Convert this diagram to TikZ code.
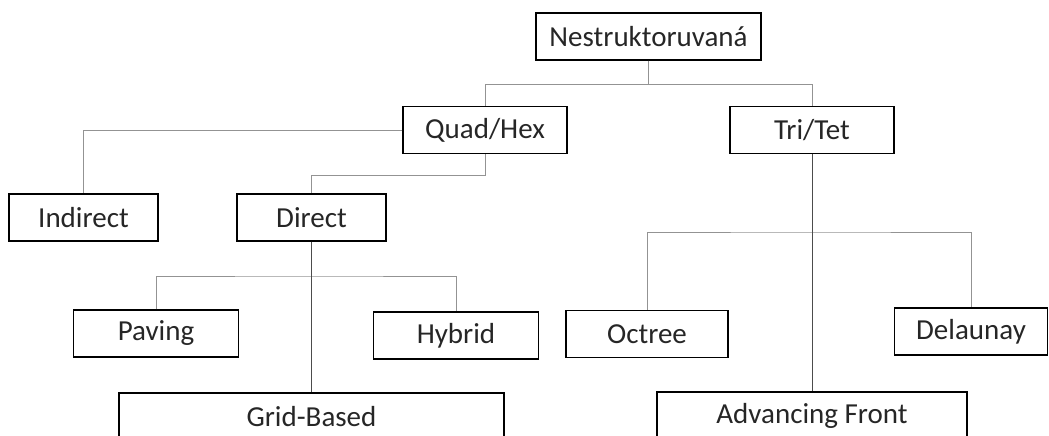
\documentclass[tikz,border=0pt]{standalone}
\usepackage{fontspec}
\setmainfont{Carlito}
\usetikzlibrary{calc}

\tikzset{
    box/.style={draw, line width=1.3pt, inner sep=0pt, minimum height=47pt,
        text=black!85, font=\fontsize{29}{35}\selectfont},
    branch/.style={draw=gray!85, line width=1pt},
    trunk/.style={draw=black!70, line width=1pt}
}

\begin{document}
\begin{tikzpicture}[x=1pt, y=-1pt]
    % Fix the page size and cut off the lowest boxes
    \useasboundingbox (0,0) rectangle (1049,436);
    \clip (0,0) rectangle (1049,436);

    % Top levels
    \node[box, minimum width=225pt] (nestr) at (648.5,36.5) {Nestruktoruvaná};
    \node[box, minimum width=164pt] (quad) at (485,130) {Quad/Hex};
    \node[box, minimum width=164pt] (tri) at (812,130) {Tri/Tet};

    % Quad/Hex branch
    \node[box, minimum width=149pt] (indirect) at (83.5,217.5) {Indirect};
    \node[box, minimum width=149pt] (direct) at (311.5,217.5) {Direct};
    \node[box, minimum width=165pt] (paving) at (156,333.5) {Paving};
    \node[box, minimum width=165pt] (hybrid) at (456,335.5) {Hybrid};
    \node[box, minimum width=385pt] (grid) at (311.5,416.5) {Grid-Based};

    % Tri/Tet branch
    \node[box, minimum width=162pt] (octree) at (647,334) {Octree};
    \node[box, minimum width=153pt] (delaunay) at (971,331.5) {Delaunay};
    \node[box, minimum width=310pt] (advfront) at (812,415.5) {Advancing Front};

    % Split points
    \coordinate (dsplit) at (311.5,276);
    \coordinate (tsplit) at (812,232);

    % Connectors
    \draw[branch] (nestr.south) -- ++(0,24) -| (quad.north);
    \draw[branch] (nestr.south) -- ++(0,24) -| (tri.north);
    \draw[branch] (quad.west) -| (indirect.north);
    \draw[branch] (quad.south) -- ++(0,21) -| (direct.north);
    \draw[branch] (paving.north) |- (dsplit) -| (hybrid.north);
    \draw[trunk] (direct.south) -- (grid.north);
    \draw[branch] (octree.north) |- (tsplit) -| (delaunay.north);
    \draw[trunk] (tri.south) -- (advfront.north);
\end{tikzpicture}
\end{document}
